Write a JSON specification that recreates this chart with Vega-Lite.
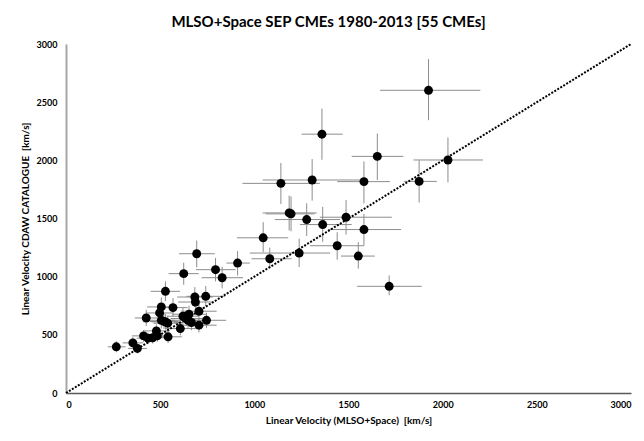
{
  "$schema": "https://vega.github.io/schema/vega-lite/v6.json",
  "width": 565,
  "height": 349,
  "autosize": {"type": "none"},
  "padding": {"left": 66, "top": 44, "right": 13, "bottom": 48},
  "background": "white",
  "title": {
    "text": "MLSO+Space SEP CMEs 1980-2013 [55 CMEs]",
    "font": "Lato",
    "fontSize": 15,
    "fontWeight": "bold",
    "color": "#000000",
    "anchor": "middle",
    "dx": -20,
    "offset": 10
  },
  "config": {
    "view": {"stroke": null},
    "axis": {
      "labelFont": "Lato",
      "labelFontWeight": "bold",
      "labelFontSize": 9,
      "labelColor": "#000000",
      "titleFont": "Lato",
      "titleFontWeight": "bold",
      "titleFontSize": 10,
      "titleColor": "#000000",
      "grid": false,
      "ticks": false,
      "format": "d"
    }
  },
  "datasets": {
    "cmes": [
      {"x": 267, "y": 397, "xlo": 222, "xhi": 316, "ylo": 350, "yhi": 445},
      {"x": 355, "y": 431, "xlo": 300, "xhi": 410, "ylo": 380, "yhi": 480},
      {"x": 379, "y": 383, "xlo": 330, "xhi": 430, "ylo": 340, "yhi": 425},
      {"x": 412, "y": 491, "xlo": 350, "xhi": 475, "ylo": 440, "yhi": 540},
      {"x": 435, "y": 471, "xlo": 375, "xhi": 495, "ylo": 420, "yhi": 520},
      {"x": 485, "y": 491, "xlo": 420, "xhi": 550, "ylo": 440, "yhi": 545},
      {"x": 480, "y": 534, "xlo": 410, "xhi": 550, "ylo": 475, "yhi": 590},
      {"x": 542, "y": 483, "xlo": 470, "xhi": 615, "ylo": 430, "yhi": 535},
      {"x": 607, "y": 554, "xlo": 525, "xhi": 690, "ylo": 495, "yhi": 615},
      {"x": 426, "y": 645, "xlo": 365, "xhi": 490, "ylo": 575, "yhi": 715},
      {"x": 506, "y": 740, "xlo": 430, "xhi": 580, "ylo": 660, "yhi": 820},
      {"x": 497, "y": 688, "xlo": 425, "xhi": 570, "ylo": 615, "yhi": 760},
      {"x": 568, "y": 734, "xlo": 490, "xhi": 645, "ylo": 655, "yhi": 815},
      {"x": 506, "y": 625, "xlo": 435, "xhi": 580, "ylo": 555, "yhi": 695},
      {"x": 529, "y": 611, "xlo": 455, "xhi": 605, "ylo": 545, "yhi": 680},
      {"x": 520, "y": 615, "xlo": 445, "xhi": 595, "ylo": 550, "yhi": 685},
      {"x": 621, "y": 660, "xlo": 540, "xhi": 705, "ylo": 590, "yhi": 730},
      {"x": 653, "y": 677, "xlo": 565, "xhi": 745, "ylo": 605, "yhi": 750},
      {"x": 648, "y": 625, "xlo": 560, "xhi": 735, "ylo": 560, "yhi": 690},
      {"x": 666, "y": 606, "xlo": 575, "xhi": 760, "ylo": 540, "yhi": 670},
      {"x": 706, "y": 703, "xlo": 610, "xhi": 800, "ylo": 630, "yhi": 780},
      {"x": 706, "y": 583, "xlo": 610, "xhi": 800, "ylo": 520, "yhi": 645},
      {"x": 746, "y": 625, "xlo": 645, "xhi": 850, "ylo": 560, "yhi": 690},
      {"x": 684, "y": 825, "xlo": 590, "xhi": 780, "ylo": 740, "yhi": 910},
      {"x": 687, "y": 782, "xlo": 595, "xhi": 780, "ylo": 700, "yhi": 865},
      {"x": 742, "y": 831, "xlo": 640, "xhi": 845, "ylo": 745, "yhi": 920},
      {"x": 528, "y": 874, "xlo": 450, "xhi": 605, "ylo": 790, "yhi": 960},
      {"x": 625, "y": 1026, "xlo": 545, "xhi": 705, "ylo": 930, "yhi": 1120},
      {"x": 694, "y": 1197, "xlo": 600, "xhi": 790, "ylo": 1080, "yhi": 1310},
      {"x": 794, "y": 1060, "xlo": 690, "xhi": 900, "ylo": 960, "yhi": 1160},
      {"x": 829, "y": 991, "xlo": 720, "xhi": 940, "ylo": 900, "yhi": 1085},
      {"x": 911, "y": 1117, "xlo": 852, "xhi": 976, "ylo": 1010, "yhi": 1220},
      {"x": 1047, "y": 1334, "xlo": 908, "xhi": 1180, "ylo": 1211, "yhi": 1468},
      {"x": 1082, "y": 1154, "xlo": 985, "xhi": 1198, "ylo": 1070, "yhi": 1250},
      {"x": 1359, "y": 2225, "xlo": 1251, "xhi": 1469, "ylo": 2005, "yhi": 2445},
      {"x": 1653, "y": 2034, "xlo": 1517, "xhi": 1791, "ylo": 1831, "yhi": 2230},
      {"x": 1141, "y": 1802, "xlo": 937, "xhi": 1348, "ylo": 1625, "yhi": 1977},
      {"x": 1307, "y": 1831, "xlo": 1044, "xhi": 1582, "ylo": 1654, "yhi": 2011},
      {"x": 1582, "y": 1817, "xlo": 1440, "xhi": 1720, "ylo": 1630, "yhi": 1990},
      {"x": 1875, "y": 1819, "xlo": 1794, "xhi": 1969, "ylo": 1637, "yhi": 2000},
      {"x": 1185, "y": 1548, "xlo": 1044, "xhi": 1331, "ylo": 1397, "yhi": 1697},
      {"x": 1195, "y": 1540, "xlo": 1060, "xhi": 1320, "ylo": 1390, "yhi": 1690},
      {"x": 1278, "y": 1491, "xlo": 1109, "xhi": 1455, "ylo": 1350, "yhi": 1630},
      {"x": 1363, "y": 1448, "xlo": 1242, "xhi": 1517, "ylo": 1300, "yhi": 1600},
      {"x": 1487, "y": 1511, "xlo": 1348, "xhi": 1730, "ylo": 1362, "yhi": 1660},
      {"x": 1582, "y": 1405, "xlo": 1393, "xhi": 1779, "ylo": 1268, "yhi": 1540},
      {"x": 1440, "y": 1266, "xlo": 1295, "xhi": 1582, "ylo": 1146, "yhi": 1382},
      {"x": 1552, "y": 1177, "xlo": 1460, "xhi": 1640, "ylo": 1069, "yhi": 1297},
      {"x": 1238, "y": 1203, "xlo": 976, "xhi": 1402, "ylo": 1082, "yhi": 1326},
      {"x": 1925, "y": 2602, "xlo": 1668, "xhi": 2200, "ylo": 2345, "yhi": 2870},
      {"x": 2028, "y": 2003, "xlo": 1845, "xhi": 2214, "ylo": 1810, "yhi": 2196},
      {"x": 1716, "y": 917, "xlo": 1546, "xhi": 1889, "ylo": 840, "yhi": 1011},
      {"x": 460, "y": 475, "xlo": 400, "xhi": 525, "ylo": 425, "yhi": 525},
      {"x": 540, "y": 600, "xlo": 465, "xhi": 615, "ylo": 535, "yhi": 665},
      {"x": 640, "y": 640, "xlo": 555, "xhi": 725, "ylo": 575, "yhi": 705}
    ],
    "diag": [
      {"x": 0, "y": 0},
      {"x": 3000, "y": 3000}
    ]
  },
  "layer": [
    {
      "data": {"name": "cmes"},
      "mark": {"type": "rule", "color": "#8c8c8c", "strokeWidth": 1},
      "encoding": {
        "x": {"field": "xlo", "type": "quantitative", "scale": {"domain": [0, 3000], "nice": false},
              "axis": {"values": [0, 500, 1000, 1500, 2000, 2500, 3000], "title": "Linear Velocity (MLSO+Space)\u00a0\u00a0[km/s]",
                       "domainColor": "#595959", "domainWidth": 1.5, "labelPadding": 7, "titlePadding": 6}},
        "x2": {"field": "xhi"},
        "y": {"field": "y", "type": "quantitative", "scale": {"domain": [0, 3000], "nice": false},
              "axis": {"values": [0, 500, 1000, 1500, 2000, 2500, 3000], "title": "Linear Velocity CDAW CATALOGUE\u00a0\u00a0[km/s]",
                       "domainColor": "#a6a6a6", "domainWidth": 2, "labelPadding": 9, "titlePadding": 6}}
      }
    },
    {
      "data": {"name": "cmes"},
      "mark": {"type": "rule", "color": "#8c8c8c", "strokeWidth": 1},
      "encoding": {
        "x": {"field": "x", "type": "quantitative"},
        "y": {"field": "ylo", "type": "quantitative"},
        "y2": {"field": "yhi"}
      }
    },
    {
      "data": {"name": "diag"},
      "mark": {"type": "line", "color": "#000000", "strokeWidth": 2, "strokeDash": [2, 1.5]},
      "encoding": {
        "x": {"field": "x", "type": "quantitative"},
        "y": {"field": "y", "type": "quantitative"}
      }
    },
    {
      "data": {"name": "cmes"},
      "mark": {"type": "circle", "color": "#000000", "opacity": 1, "size": 80},
      "encoding": {
        "x": {"field": "x", "type": "quantitative"},
        "y": {"field": "y", "type": "quantitative"}
      }
    }
  ]
}
